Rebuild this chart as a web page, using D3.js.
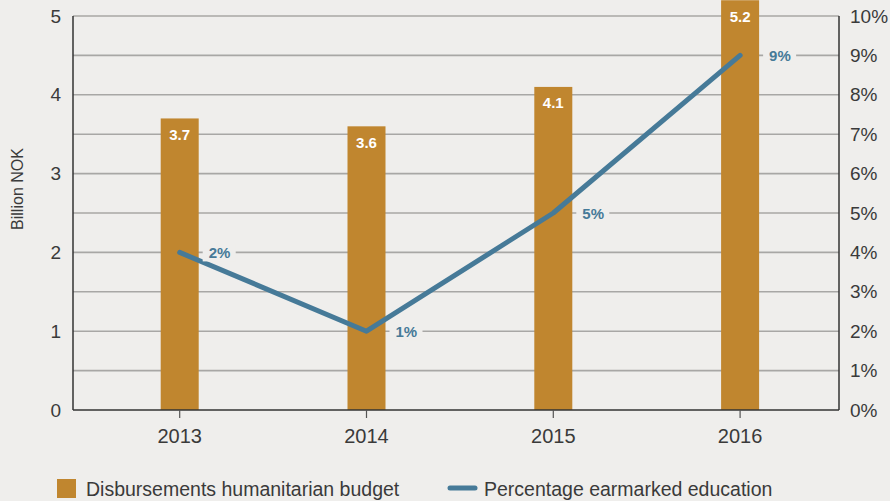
<!DOCTYPE html>
<html><head><meta charset="utf-8">
<script src="https://cdn.jsdelivr.net/npm/d3@7"></script>
<style>
body{margin:0;background:#efeeec;}
svg{display:block;font-family:"Liberation Sans",Arial,sans-serif;}
</style></head>
<body><svg id="c" width="890" height="501"></svg>
<script>
const years = ["2013","2014","2015","2016"];
const disbursements = [3.7, 3.6, 4.1, 5.2];
const barLabels = ["3.7","3.6","4.1","5.2"];
const earmarkedPos = [4, 2, 5, 9];
const earmarkedLabels = ["2%","1%","5%","9%"];
const leftTicks = [0,1,2,3,4,5];
const rightTicks = [0,1,2,3,4,5,6,7,8,9,10];

const svg = d3.select("#c");
const W=890,H=501;
const m={l:73,r:51,t:16,b:91};
const x0=m.l, x1=W-m.r, y0=H-m.b, y1=m.t;
const barColor="#c0862f", lineColor="#467a98", textColor="#3a3a3a";

const x = d3.scalePoint().domain(years).range([x0+106.7, x0+106.7+3*186.8]);
const y = d3.scaleLinear().domain([0,5]).range([y0,y1]);
const yr = d3.scaleLinear().domain([0,10]).range([y0,y1]);

svg.append("g").selectAll("line").data(rightTicks.filter(d=>d>0)).join("line")
  .attr("x1",x0).attr("x2",x1).attr("y1",d=>yr(d)).attr("y2",d=>yr(d))
  .attr("stroke","#a8a7a5").attr("stroke-width",1.6);

const bw=38;
svg.append("g").selectAll("rect").data(disbursements).join("rect")
  .attr("x",(d,i)=>x(years[i])-bw/2).attr("width",bw)
  .attr("y",d=>Math.max(0,y(d))).attr("height",d=>y0-Math.max(0,y(d)))
  .attr("fill",barColor);
svg.append("g").selectAll("text").data(disbursements).join("text")
  .attr("x",(d,i)=>x(years[i])).attr("y",d=>Math.max(y(d),-5)+21.5)
  .attr("text-anchor","middle").attr("fill","#fff").attr("font-weight","bold")
  .attr("font-size",15).text((d,i)=>barLabels[i]);

const line=d3.line().x((d,i)=>x(years[i])).y(d=>yr(d));
svg.append("path").datum(earmarkedPos).attr("d",line).attr("fill","none")
  .attr("stroke",lineColor).attr("stroke-width",5).attr("stroke-linecap","round").attr("stroke-linejoin","round");
const lg=svg.append("g").selectAll("g").data(earmarkedPos).join("g")
  .attr("transform",(d,i)=>`translate(${x(years[i])+29},${yr(d)})`);
lg.append("rect").attr("x",-6).attr("y",-9).attr("width",33).attr("height",18).attr("fill","#efeeec");
lg.append("text").attr("y",5.5).attr("fill",lineColor).attr("font-weight","bold").attr("font-size",15)
  .text((d,i)=>earmarkedLabels[i]);

svg.append("line").attr("x1",x0).attr("x2",x0).attr("y1",y1).attr("y2",y0).attr("stroke","#333").attr("stroke-width",1.5);
svg.append("line").attr("x1",x1).attr("x2",x1).attr("y1",y1).attr("y2",y0).attr("stroke","#333").attr("stroke-width",1.5);
svg.append("line").attr("x1",x0).attr("x2",x1).attr("y1",y0).attr("y2",y0).attr("stroke","#333").attr("stroke-width",1.5);

svg.append("g").selectAll("line").data(years).join("line")
  .attr("x1",d=>x(d)).attr("x2",d=>x(d)).attr("y1",y0).attr("y2",y0+8).attr("stroke","#555").attr("stroke-width",1.2);
svg.append("g").selectAll("text").data(years).join("text")
  .attr("x",d=>x(d)).attr("y",y0+33).attr("text-anchor","middle").attr("fill",textColor).attr("font-size",20).text(d=>d);

svg.append("g").selectAll("text").data(leftTicks).join("text")
  .attr("x",61).attr("y",d=>y(d)+6.5).attr("text-anchor","end").attr("fill",textColor).attr("font-size",19).text(d=>d);
svg.append("g").selectAll("text").data(rightTicks).join("text")
  .attr("x",850).attr("y",d=>yr(d)+6.5).attr("fill",textColor).attr("font-size",19).text(d=>d+"%");

svg.append("text").attr("transform",`translate(23,189) rotate(-90)`).attr("text-anchor","middle")
  .attr("fill",textColor).attr("font-size",16).text("Billion NOK");

svg.append("rect").attr("x",57).attr("y",479).attr("width",19).attr("height",19).attr("fill",barColor);
svg.append("text").attr("x",86).attr("y",496).attr("fill",textColor).attr("font-size",19.5).text("Disbursements humanitarian budget");
svg.append("line").attr("x1",450).attr("x2",475).attr("y1",488).attr("y2",488).attr("stroke",lineColor).attr("stroke-width",5).attr("stroke-linecap","round");
svg.append("text").attr("x",484).attr("y",496).attr("fill",textColor).attr("font-size",19.5).text("Percentage earmarked education");
</script></body></html>
